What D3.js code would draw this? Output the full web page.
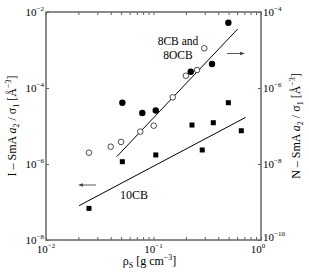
<!DOCTYPE html>
<html>
<head>
<meta charset="utf-8">
<script src="https://cdn.jsdelivr.net/npm/d3@7"></script>
<style>
  body { margin: 0; background: #fff; }
  svg { display: block; font-family: "Liberation Serif", "DejaVu Serif", serif; }
</style>
</head>
<body>
<div id="chart"></div>
<script>
// 8CB / 8OCB (right axis, N-SmA)
const rhoFilled = [0.0513, 0.0787, 0.105, 0.222, 0.350, 0.497];
const nsmaFilled = [4.1e-7, 2.2e-7, 2.56e-7, 2.68e-6, 4.28e-6, 5.2e-5];
const rhoOpen = [0.0251, 0.040, 0.0499, 0.0753, 0.1005, 0.151, 0.2, 0.254, 0.297];
const nsmaOpen = [1.98e-8, 2.85e-8, 3.8e-8, 7.1e-8, 1.02e-7, 5.7e-7, 2.1e-6, 2.98e-6, 1.11e-5];
// 10CB (left axis, I-SmA)
const rho10CB = [0.0251, 0.0513, 0.105, 0.228, 0.284, 0.360, 0.497, 0.656];
const ismA10CB = [6.8e-8, 1.15e-6, 1.73e-6, 1.06e-5, 2.34e-6, 1.22e-5, 4.1e-5, 7.5e-6];
// fitted lines (end points)
const fitUpperRho = [0.0455, 0.607];
const fitUpperVal = [1.56e-8, 3.57e-5];
const fitLowerRho = [0.0203, 0.721];
const fitLowerVal = [8.0e-8, 1.69e-5];
// tick labels
const xTicks = [0.01, 0.1, 1];
const xTickExp = ["\u22122", "\u22121", "0"];
const yLeftTicks = [1e-8, 1e-6, 1e-4, 1e-2];
const yLeftExp = ["\u22128", "\u22126", "\u22124", "\u22122"];
const yRightTicks = [1e-10, 1e-8, 1e-6, 1e-4];
const yRightExp = ["\u221210", "\u22128", "\u22126", "\u22124"];

const W = 309, H = 272;
const M = { top: 12, right: 48, bottom: 32, left: 46 };
const FRAME = "#666";

const svg = d3.select("#chart").append("svg")
	.attr("width", W)
	.attr("height", H);

const x = d3.scaleLog().domain([0.01, 1]).range([M.left, W - M.right]);
const yL = d3.scaleLog().domain([1e-8, 1e-2]).range([H - M.bottom, M.top]);
const yR = d3.scaleLog().domain([1e-10, 1e-4]).range([H - M.bottom, M.top]);

const x0 = M.left, x1 = W - M.right, yb = H - M.bottom, yt = M.top;

// axes with inward ticks
function styleAxis(ax) {
	ax.select(".domain").remove();
	ax.selectAll("line").attr("stroke", "#333").attr("stroke-width", 0.8);
}
const minor = x.ticks();
svg.append("g").attr("transform", `translate(0,${yb})`)
	.call(d3.axisBottom(x).tickValues(minor).tickSize(-3).tickFormat(""))
	.call(styleAxis);
svg.append("g").attr("transform", `translate(0,${yt})`)
	.call(d3.axisTop(x).tickValues(minor).tickSize(-3).tickFormat(""))
	.call(styleAxis);
svg.append("g").attr("transform", `translate(${x0},0)`)
	.call(d3.axisLeft(yL).tickValues(yLeftTicks).tickSize(-3).tickFormat(""))
	.call(styleAxis);
svg.append("g").attr("transform", `translate(${x1},0)`)
	.call(d3.axisRight(yR).tickValues(yRightTicks).tickSize(-3).tickFormat(""))
	.call(styleAxis);

// frame
svg.append("rect")
	.attr("x", x0).attr("y", yt)
	.attr("width", x1 - x0).attr("height", yb - yt)
	.attr("fill", "none")
	.attr("stroke", FRAME)
	.attr("stroke-width", 1.5);

// tick labels (10 with superscript)
function powLabel(sel, exp) {
	sel.append("tspan").text("10");
	sel.append("tspan").attr("dy", -5).style("font-size", "7px").text(exp);
}
xTicks.forEach((t, i) => {
	const tx = svg.append("text")
		.attr("x", x(t) - (i === 2 ? 3 : 0)).attr("y", yb + 13)
		.attr("text-anchor", "middle")
		.style("font-size", "11px");
	powLabel(tx, xTickExp[i]);
});
yLeftTicks.forEach((t, i) => {
	const tx = svg.append("text")
		.attr("x", x0 - 2).attr("y", yL(t) + 4)
		.attr("text-anchor", "end")
		.style("font-size", "11px");
	powLabel(tx, yLeftExp[i]);
});
yRightTicks.forEach((t, i) => {
	const tx = svg.append("text")
		.attr("x", x1 + 2).attr("y", yR(t) + (i === 0 ? 1 : 4))
		.style("font-size", "11px");
	powLabel(tx, yRightExp[i]);
});

// axis titles
const xl = svg.append("text")
	.attr("x", (x0 + x1) / 2 - 4).attr("y", H - 7)
	.attr("text-anchor", "middle")
	.style("font-size", "12px");
xl.append("tspan").text("\u03c1");
xl.append("tspan").attr("dy", 3).style("font-size", "8px").text("S");
xl.append("tspan").attr("dy", -3).text(" [g cm");
xl.append("tspan").attr("dy", -5).style("font-size", "8px").text("\u22123");
xl.append("tspan").attr("dy", 5).text("]");

function yTitle(cx, prefix) {
	const t = svg.append("text")
		.attr("transform", `translate(${cx},${(yt + yb) / 2}) rotate(-90)`)
		.attr("text-anchor", "middle")
		.style("font-size", "12px");
	t.append("tspan").text(prefix + " ");
	t.append("tspan").style("font-style", "italic").text("a");
	t.append("tspan").attr("dy", 3).style("font-size", "8px").text("2");
	t.append("tspan").attr("dy", -3).text(" / \u03c3");
	t.append("tspan").attr("dy", 3).style("font-size", "8px").text("1");
	t.append("tspan").attr("dy", -3).text(" [\u00c5");
	t.append("tspan").attr("dy", -5).style("font-size", "8px").text("\u22123");
	t.append("tspan").attr("dy", 5).text("]");
}
yTitle(16, "I \u2013 SmA");
yTitle(300, "N \u2013 SmA");

// fit lines
const line = d3.line();
svg.append("path")
	.attr("d", line(fitUpperRho.map((r, i) => [x(r), yR(fitUpperVal[i])])))
	.attr("stroke", "#000").attr("stroke-width", 1).attr("fill", "none");
svg.append("path")
	.attr("d", line(fitLowerRho.map((r, i) => [x(r), yL(fitLowerVal[i])])))
	.attr("stroke", "#000").attr("stroke-width", 1).attr("fill", "none");

// points
svg.selectAll(".open")
	.data(rhoOpen)
	.join("circle")
	.attr("class", "open")
	.attr("cx", d => x(d))
	.attr("cy", (d, i) => yR(nsmaOpen[i]))
	.attr("r", 2.8)
	.attr("fill", "#fff")
	.attr("stroke", "#000")
	.attr("stroke-width", 0.7);
svg.selectAll(".filled")
	.data(rhoFilled)
	.join("circle")
	.attr("class", "filled")
	.attr("cx", d => x(d))
	.attr("cy", (d, i) => yR(nsmaFilled[i]))
	.attr("r", 3.2)
	.attr("fill", "#000");
svg.selectAll(".sq")
	.data(rho10CB)
	.join("rect")
	.attr("class", "sq")
	.attr("x", d => x(d) - 2.5)
	.attr("y", (d, i) => yL(ismA10CB[i]) - 2.5)
	.attr("width", 5)
	.attr("height", 5)
	.attr("fill", "#000");

// annotations
svg.append("text").attr("x", 178).attr("y", 45)
	.attr("text-anchor", "middle").style("font-size", "11.5px").text("8CB and");
svg.append("text").attr("x", 178).attr("y", 58.5)
	.attr("text-anchor", "middle").style("font-size", "11.5px").text("8OCB");
svg.append("text").attr("x", 134).attr("y", 199)
	.attr("text-anchor", "middle").style("font-size", "12px").text("10CB");

function arrow(xa, xb, yy) {
	const dir = Math.sign(xb - xa);
	svg.append("line")
		.attr("x1", xa).attr("y1", yy).attr("x2", xb - dir * 3).attr("y2", yy)
		.attr("stroke", "#444").attr("stroke-width", 0.9);
	svg.append("path")
		.attr("d", `M${xb},${yy} L${xb - dir * 5},${yy - 1.8} L${xb - dir * 5},${yy + 1.8} Z`)
		.attr("fill", "#444");
}
arrow(227, 245, 53.5);
arrow(96, 78, 185);
</script>
</body>
</html>
